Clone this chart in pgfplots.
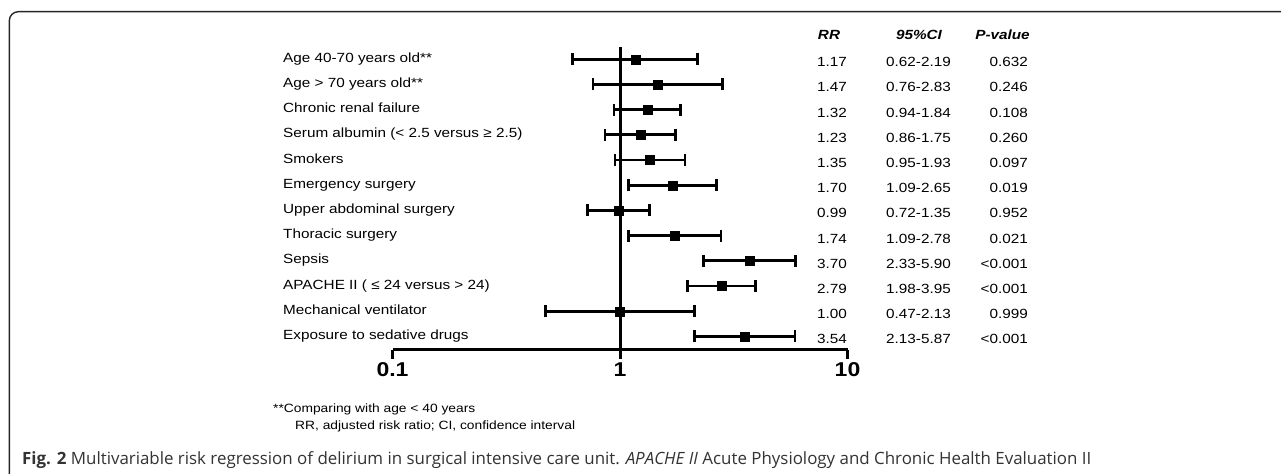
\documentclass[border=0pt]{standalone}
\usepackage{pgfplots}
\pgfplotsset{compat=1.18}
\usepackage{pgfplotstable}
\usepackage{fontspec}
\setmainfont{Liberation Sans}[FakeStretch=1.15]
\newfontfamily\capfont{Open Sans}
\definecolor{capgray}{HTML}{333333}
\pgfplotstableread{
pos rr lo hi em ep
12 1.17 0.62 2.19 0.55 1.02
11 1.47 0.76 2.83 0.71 1.36
10 1.32 0.94 1.84 0.38 0.52
9 1.23 0.86 1.75 0.37 0.52
8 1.35 0.95 1.93 0.40 0.58
7 1.70 1.09 2.65 0.61 0.95
6 0.99 0.72 1.35 0.27 0.36
5 1.74 1.09 2.78 0.65 1.04
4 3.70 2.33 5.90 1.37 2.20
3 2.79 1.98 3.95 0.81 1.16
2 1.00 0.47 2.13 0.53 1.13
1 3.54 2.13 5.87 1.41 2.33
}\ci
\begin{document}
\begin{tikzpicture}[x=1bp,y=1bp]
\useasboundingbox (0,0) rectangle (1281,474);
\clip (0,0) rectangle (1281,474);
\fill[white] (0,0) rectangle (1281,474);
\draw[line width=1.4bp, color=black!85, rounded corners=9bp] (9.3,-40) rectangle (1330,462.3);
\begin{axis}[
  at={(392.5bp,124bp)}, anchor=south west,
  scale only axis, width=455bp, height=303bp,
  xmode=log, xmin=0.1, xmax=10,
  ymin=0.464, ymax=12.488,
  axis x line=bottom, axis y line=none,
  x axis line style={-, line width=3bp},
  xtick={0.1,1,10}, xticklabels={0.1,1,10},
  xminorticks=false,
  tick align=outside, major tick length=9bp,
  every tick/.style={black, line width=3bp},
  xticklabel style={font=\fontsize{20bp}{20bp}\selectfont\bfseries},
  clip=false,
]
\draw[line width=3bp] (axis cs:1,0.464) -- (axis cs:1,12.488);
\addplot[only marks, mark=square*, mark size=4.5bp, black,
  error bars/.cd, x dir=both, x explicit, error mark=|,
  error bar style={line width=2.8bp, black},
  error mark options={mark size=6bp, line width=2.7bp, black}]
  table[x=rr, y=pos, x error minus=em, x error plus=ep]{\ci};
\end{axis}
\begin{scope}[every node/.style={inner sep=0pt, font=\fontsize{13.3bp}{16bp}\selectfont}]
\foreach \lab [count=\i from 0] in {{Age 40-70 years old**},{Age > 70 years old**},{Chronic renal failure},{Serum albumin (< 2.5 versus ≥ 2.5)},{Smokers},{Emergency surgery},{Upper abdominal surgery},{Thoracic surgery},{Sepsis},{APACHE II ( ≤ 24 versus > 24)},{Mechanical ventilator},{Exposure to sedative drugs}}
  \node[anchor=base west] at (283, 411.7-25.2*\i) {\lab};
\foreach \r/\c/\p [count=\i from 0] in {1.17/0.62-2.19/0.632, 1.47/0.76-2.83/0.246, 1.32/0.94-1.84/0.108, 1.23/0.86-1.75/0.260, 1.35/0.95-1.93/0.097, 1.70/1.09-2.65/0.019, 0.99/0.72-1.35/0.952, 1.74/1.09-2.78/0.021, 3.70/2.33-5.90/<0.001, 2.79/1.98-3.95/<0.001, 1.00/0.47-2.13/0.999, 3.54/2.13-5.87/<0.001}
{
  \node[anchor=base] at (832, 407.2-25.2*\i) {\r};
  \node[anchor=base] at (918.5, 407.2-25.2*\i) {\c};
  \node[anchor=base east] at (1028, 407.2-25.2*\i) {\p};
}
\node[anchor=base, font=\fontsize{13.3bp}{16bp}\selectfont\bfseries\itshape] at (829, 434.2) {RR};
\node[anchor=base, font=\fontsize{13.3bp}{16bp}\selectfont\bfseries\itshape] at (919, 434.2) {95\%CI};
\node[anchor=base, font=\fontsize{13.3bp}{16bp}\selectfont\bfseries\itshape] at (1002.5, 434.2) {P-value};
\node[anchor=base west, font=\fontsize{12bp}{14bp}\selectfont] at (273, 61) {**Comparing with age < 40 years};
\node[anchor=base west, font=\fontsize{12bp}{14bp}\selectfont] at (295, 44) {RR, adjusted risk ratio; CI, confidence interval};
\node[anchor=base west, text=capgray, font=\capfont\fontsize{16.9bp}{19bp}\selectfont] at (22, 9) {\textbf{Fig. 2} Multivariable risk regression of delirium in surgical intensive care unit. \textit{APACHE II} Acute Physiology and Chronic Health Evaluation II};
\end{scope}
\end{tikzpicture}
\end{document}
